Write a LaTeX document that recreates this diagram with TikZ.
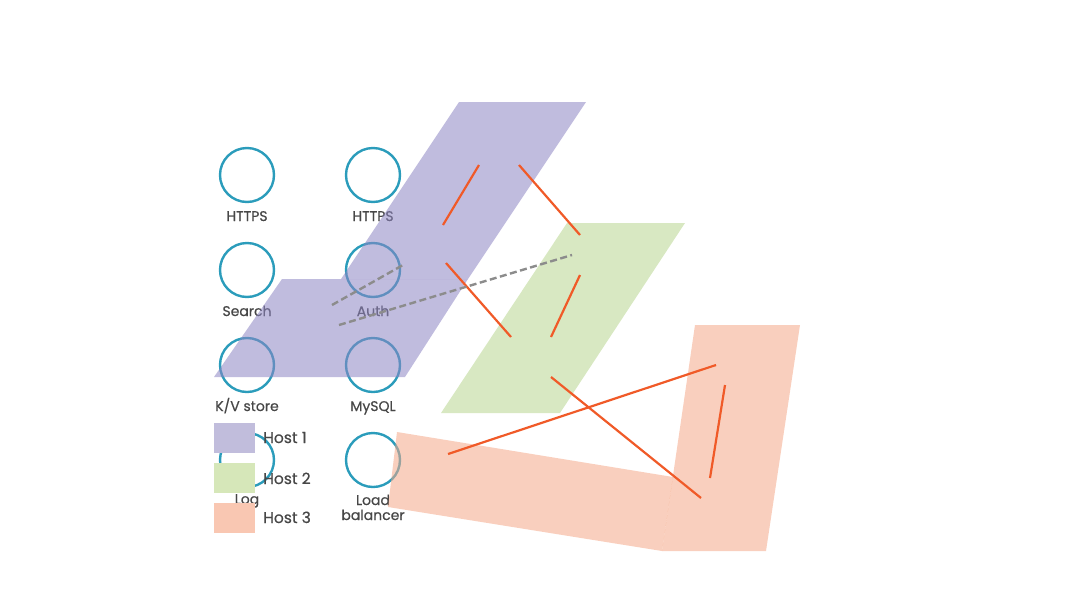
\documentclass[tikz,border=0pt]{standalone}
\usepackage{fontspec}
\setmainfont{Poppins}[FakeBold=0.6]
\definecolor{ring}{HTML}{2B9CBB}
\definecolor{wire}{HTML}{F05A28}
\definecolor{dashc}{HTML}{8C8C8C}
\definecolor{txt}{HTML}{474747}
\definecolor{hostA}{HTML}{8D85C3}
\definecolor{hostB}{HTML}{B8D58F}
\definecolor{hostC}{HTML}{F4A888}
\definecolor{keyA}{HTML}{C1BDDC}
\definecolor{keyB}{HTML}{D6E7B9}
\definecolor{keyC}{HTML}{F9C7B2}
\tikzset{
  svc/.style={circle, draw=ring, line width=2.4pt, minimum size=54pt, inner sep=0pt},
  lbl/.style={anchor=base, text=txt, font=\fontsize{14}{15}\selectfont, align=center},
  hostlbl/.style={anchor=base west, text=txt, font=\fontsize{15.5}{17}\selectfont, inner sep=0pt},
  area/.style={fill opacity=0.55, draw=none},
  link/.style={draw=wire, line width=2.2pt},
  dlink/.style={draw=dashc, line width=2.4pt, dash pattern=on 7pt off 3.5pt},
  keybox/.style={minimum width=41pt, minimum height=30pt, inner sep=0pt, draw=none, anchor=north west}
}
\begin{document}
\begin{tikzpicture}[x=1pt,y=-1pt]
\useasboundingbox (0,0) rectangle (1068,600);
% services
\node[svc] (h1) at (247,175) {};
\node[svc] (h2) at (373,175) {};
\node[svc] (se) at (247,270) {};
\node[svc] (au) at (373,270) {};
\node[svc] (kv) at (247,365) {};
\node[svc] (my) at (373,365) {};
\node[svc] (lg) at (247,460) {};
\node[svc] (lb) at (373,460) {};
\node[lbl] (h1l) at (247,221) {HTTPS};
\node[lbl] (h2l) at (373,221) {HTTPS};
\node[lbl] (sel) at (247,316) {Search};
\node[lbl] (aul) at (373,316) {Auth};
\node[lbl] (kvl) at (247,411) {K/V store};
\node[lbl] (myl) at (373,411) {MySQL};
\node[lbl] (lgl) at (247,504) {Log};
\node[lbl] (lbl1) at (373,505) {Load};
\node[lbl] (lbl2) at (373,520) {balancer};
% host areas
\fill[area, hostA] (459,102) -- (586,102) -- (468,279) -- (341,279) -- cycle;
\fill[area, hostA] (282,279) -- (468,279) -- (405,377) -- (214,377) -- cycle;
\fill[area, hostB] (567,223) -- (685,223) -- (560,413) -- (441,413) -- cycle;
\fill[area, hostC] (397,432) -- (673,477) -- (662,551) -- (388,507) -- cycle;
\fill[area, hostC] (695,325) -- (800,325) -- (766,551) -- (662,551) -- cycle;
% link end points
\coordinate (a1) at (443,225); \coordinate (a2) at (479,165);
\coordinate (b1) at (519,165); \coordinate (b2) at (580,235);
\coordinate (c1) at (446,263); \coordinate (c2) at (511,337);
\coordinate (d1) at (551,337); \coordinate (d2) at (580,275);
\coordinate (e1) at (551,377); \coordinate (e2) at (701,498);
\coordinate (f1) at (448,454); \coordinate (f2) at (716,365);
\coordinate (g1) at (710,478); \coordinate (g2) at (725,385);
\coordinate (p1) at (332,305); \coordinate (p2) at (403,265);
\coordinate (q1) at (339,325); \coordinate (q2) at (572,255);
\draw[link] (a1) -- (a2);
\draw[link] (b1) -- (b2);
\draw[link] (c1) -- (c2);
\draw[link] (d1) -- (d2);
\draw[link] (e1) -- (e2);
\draw[link] (f1) -- (f2);
\draw[link] (g1) -- (g2);
\draw[dlink] (p1) -- (p2);
\draw[dlink] (q1) -- (q2);
% legend
\node[keybox, fill=keyA] (k1) at (214,423) {};
\node[keybox, fill=keyB] (k2) at (214,463) {};
\node[keybox, fill=keyC] (k3) at (214,503) {};
\node[hostlbl] (k1l) at (263,443) {Host 1};
\node[hostlbl] (k2l) at (263,484) {Host 2};
\node[hostlbl] (k3l) at (263,523) {Host 3};
\end{tikzpicture}
\end{document}
